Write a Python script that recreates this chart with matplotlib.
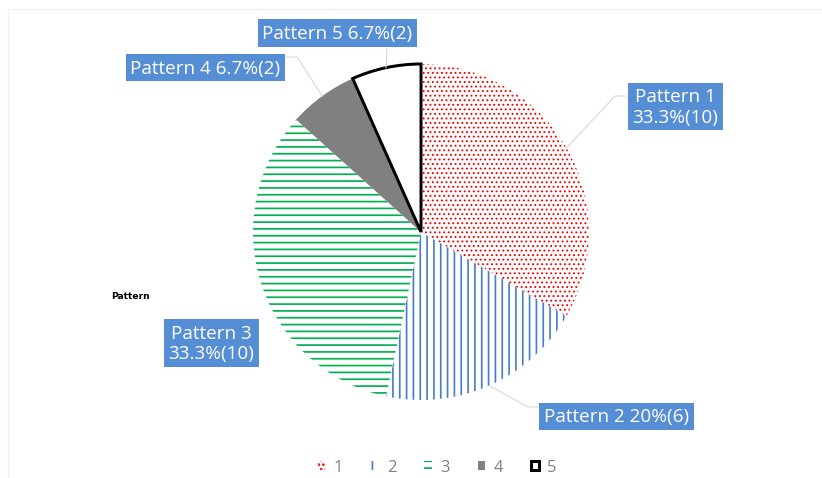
import matplotlib.pyplot as plt
import numpy as np

# pie data
labels = ['Pattern 1', 'Pattern 2', 'Pattern 3', 'Pattern 4', 'Pattern 5']
legend_names = ['1', '2', '3', '4', '5']
counts = [10, 6, 10, 2, 2]
colors = ['#FF0000', '#4A7EC2', '#00B050', '#808080', '#000000']
hatches = ['...', '||', '--', None, None]
hatch_lw = [1.0, 1.5, 1.5, None, None]

W, H = 822, 479
DPI = 82.2
plt.rcParams['font.family'] = ['Open Sans', 'DejaVu Sans']
plt.rcParams['hatch.linewidth'] = 1.5

fig = plt.figure(figsize=(W / DPI, H / DPI), dpi=DPI)
ax = fig.add_axes([0, 0, 1, 1])

cx, cy, r = 421, H - 233, 168
wedges, _ = ax.pie(counts, startangle=90, counterclock=False,
                   center=(cx, cy), radius=r)
ax.set_xlim(0, W)
ax.set_ylim(0, H)
ax.set_aspect('equal')
ax.axis('off')

for w, c, h, hl in zip(wedges, colors, hatches, hatch_lw):
    if h:
        w.set_facecolor('white')
        w.set_edgecolor(c)
        w.set_hatch(h)
        w.set_linewidth(0)
        if hasattr(w, 'set_hatch_linewidth'):
            w.set_hatch_linewidth(hl)
    else:
        w.set_facecolor(c)
        w.set_linewidth(0)
# last slice: white with a heavy black outline
wedges[4].set_facecolor('white')
wedges[4].set_edgecolor('black')
wedges[4].set_linewidth(2.6)
wedges[4].set_zorder(5)

# label layout: box centre, elbow point, box anchor (pixels, y down)
layout = [
    ((675.5, 107.5), (615, 97), (626, 97), True),
    ((616.5, 417.5), (528, 408), (539, 408), False),
    ((211.5, 344), None, None, True),
    ((205.5, 68.5), (297, 58), (286, 58), False),
    ((337.5, 34), None, (387, 50), False),
]

total = sum(counts)
cum = 0
for i, c in enumerate(counts):
    mid = np.deg2rad(90 - 360 * (cum + c / 2) / total)
    cum += c
    pct = round(c / total * 100, 1)
    sep = '\n' if layout[i][3] else ' '
    txt = f'{labels[i]}{sep}{pct:g}%({c})'
    (bx, by), elbow, anchor, _ = layout[i]
    if anchor is not None:
        px = [cx + r * np.cos(mid)]
        py = [cy + r * np.sin(mid)]
        if elbow is not None:
            px.append(elbow[0]); py.append(H - elbow[1])
        px.append(anchor[0]); py.append(H - anchor[1])
        ax.plot(px, py, color='#D9D9D9', lw=1, zorder=6)
    ax.text(bx, H - by, txt, ha='center', va='center', color='white',
            fontsize=16.5, linespacing=1.15, zorder=7,
            bbox=dict(boxstyle='square,pad=0.25', fc='#558ED5', ec='none'))

ax.text(111, H - 292, 'Pattern', fontsize=8, va='top', ha='left',
        color='black', fontweight='semibold', family='DejaVu Sans')

# faint chart area border
ax.plot([8, 8, W], [0, H - 10, H - 10], color='#F0F0F0', lw=1)

leg = fig.legend(wedges, legend_names, loc='center', ncol=5,
                 bbox_to_anchor=(437 / W, 11 / H), frameon=False,
                 fontsize=14.5, labelcolor='#808080', handlelength=0.45,
                 handleheight=0.45, handletextpad=0.5, columnspacing=1.7)

fig.savefig('out.png', dpi=DPI)
